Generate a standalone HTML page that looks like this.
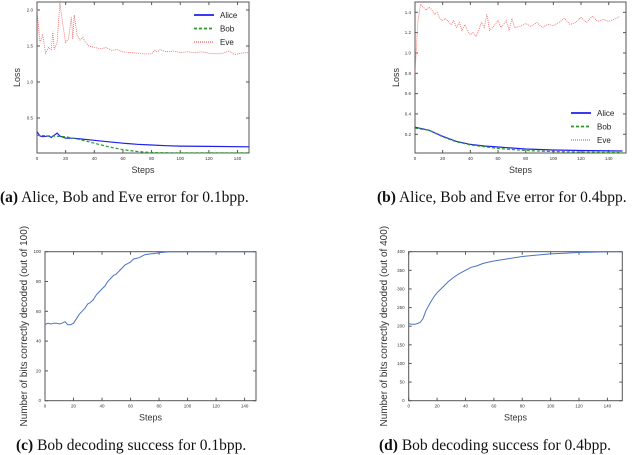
<!DOCTYPE html>
<html><head><meta charset="utf-8"><style>
html,body{margin:0;padding:0;background:#fff;width:640px;height:453px;overflow:hidden}
svg{position:absolute;left:0;top:0}
.cap{position:absolute;font-family:"Liberation Serif",serif;font-size:15.5px;color:#111;white-space:nowrap}
</style></head><body>
<svg id="chart" width="640" height="453"></svg>
<div class="cap" style="left:0;top:189px"><b>(a)</b> Alice, Bob and Eve error for 0.1bpp.</div>
<div class="cap" style="left:377px;top:189px"><b>(b)</b> Alice, Bob and Eve error for 0.4bpp.</div>
<div class="cap" style="left:16px;top:437px"><b>(c)</b> Bob decoding success for 0.1bpp.</div>
<div class="cap" style="left:379px;top:437px"><b>(d)</b> Bob decoding success for 0.4bpp.</div>
<script>
const xTicks=[0,20,40,60,80,100,120,140];
const aYTicks=[0.5,1.0,1.5,2.0];
const bYTicks=[0.2,0.4,0.6,0.8,1.0,1.2,1.4];
const cYTicks=[0,20,40,60,80,100];
const dYTicks=[0,50,100,150,200,250,300,350,400];
const aEveSteps=[0,2,4,6,8,10,11,12,14,16,18,20,22,24,25,26,28,30,32,34,36,40,45,48,52,56,60,65,70,75,80,82,84,86,90,95,100,105,110,115,120,125,130,134,138,142,148];
const aEve=[2.0,1.55,1.65,1.4,1.48,1.45,1.7,1.45,1.55,2.1,1.8,1.55,1.6,1.9,1.6,1.93,1.65,1.58,1.62,1.55,1.5,1.48,1.46,1.48,1.44,1.45,1.42,1.41,1.40,1.39,1.39,1.44,1.42,1.45,1.42,1.43,1.41,1.42,1.41,1.42,1.40,1.39,1.40,1.43,1.38,1.40,1.41];
const aAliceSteps=[0,2,4,8,10,12,14,16,20,25,30,40,50,60,70,80,90,100,120,148];
const aAlice=[0.31,0.25,0.24,0.25,0.23,0.26,0.29,0.25,0.22,0.22,0.21,0.19,0.17,0.15,0.135,0.125,0.115,0.11,0.105,0.10];
const aBobSteps=[0,10,20,30,40,50,60,70,80,100,148];
const aBob=[0.26,0.25,0.24,0.2,0.15,0.1,0.06,0.035,0.02,0.015,0.015];
const bEveSteps=[0,2,4,6,8,10,12,14,16,18,20,22,24,26,28,30,32,34,36,38,40,42,44,46,48,50,52,54,56,58,60,62,64,66,68,70,72,76,80,84,88,92,96,100,104,108,112,116,120,124,128,132,136,140,144,148];
const bEve=[0.8,1.3,1.48,1.45,1.42,1.45,1.43,1.38,1.40,1.34,1.32,1.34,1.31,1.28,1.32,1.25,1.30,1.22,1.28,1.22,1.18,1.2,1.16,1.22,1.30,1.25,1.38,1.22,1.25,1.28,1.32,1.25,1.28,1.32,1.22,1.34,1.25,1.26,1.29,1.26,1.30,1.25,1.28,1.27,1.30,1.34,1.28,1.30,1.35,1.30,1.36,1.31,1.33,1.31,1.33,1.36];
const bAliceSteps=[0,10,20,30,40,50,60,70,80,100,120,150];
const bAlice=[0.27,0.24,0.18,0.13,0.10,0.085,0.075,0.065,0.055,0.045,0.04,0.035];
const bBobSteps=[0,10,20,30,40,60,80,100,150];
const bBob=[0.26,0.24,0.175,0.125,0.095,0.06,0.04,0.03,0.02];
const cSteps=[0,2,4,6,8,10,12,14,16,18,20,22,24,26,28,30,32,34,36,38,40,42,44,46,48,50,52,54,56,58,60,62,64,66,68,70,74,78,82,88,148];
const cVals=[51,52,51.5,52,52,51.5,52,53,51,51,52,55,58,60,62,65,66,68,71,73,75,77,80,82,84,85,87,89,91,92,93,95,95.5,96,97,98,98.5,99,99.5,100,100];
const dSteps=[0,2,4,6,8,10,12,14,16,18,20,24,28,32,36,40,44,48,52,56,60,70,80,90,100,110,120,130,140,150];
const dVals=[207,205,205,207,210,220,240,255,268,280,290,305,320,332,342,350,358,362,368,372,375,381,387,391,394,396,398,399,400,400];

const NS="http://www.w3.org/2000/svg";
const svg=document.getElementById('chart');
function mk(tag,attrs,parent){const e=document.createElementNS(NS,tag);for(const k in attrs)e.setAttribute(k,attrs[k]);(parent||svg).appendChild(e);return e;}
function panel(cfg){
  const g=mk('g',{});
  
  
  const sx=v=>cfg.x0+(v-cfg.xmin)*(cfg.x1-cfg.x0)/(cfg.xmax-cfg.xmin);
  const sy=v=>cfg.yb-(v-cfg.ymin)*(cfg.yb-cfg.yt)/(cfg.ymax-cfg.ymin);
  const box=mk('rect',{x:cfg.x0,y:cfg.boxTop,width:cfg.x1-cfg.x0,height:cfg.boxBot-cfg.boxTop,fill:'none',stroke:'#555','stroke-width':1},g);
  
  
  xTicks.forEach(t=>{const x=sx(t);
    mk('line',{x1:x,x2:x,y1:cfg.boxBot,y2:cfg.boxBot-3,stroke:'#555'},g);
    mk('line',{x1:x,x2:x,y1:cfg.boxTop,y2:cfg.boxTop+3,stroke:'#555'},g);
    const tx=mk('text',{x:x,y:cfg.boxBot+7,'font-size':4.5,'text-anchor':'middle','font-family':'Liberation Sans, sans-serif',fill:'#333'},g);tx.textContent=t;
    
    });
  cfg.yTicks.forEach(t=>{const y=sy(t);
    mk('line',{x1:cfg.x0,x2:cfg.x0+3,y1:y,y2:y,stroke:'#555'},g);
    mk('line',{x1:cfg.x1,x2:cfg.x1-3,y1:y,y2:y,stroke:'#555'},g);
    const tx=mk('text',{x:cfg.x0-4,y:y+1.5,'font-size':4.5,'text-anchor':'end','font-family':'Liberation Sans, sans-serif',fill:'#333'},g);tx.textContent=cfg.fmt?t.toFixed(1):t;
    
    });
  const xl=mk('text',{x:(cfg.x0+cfg.x1)/2,y:cfg.boxBot+20,'font-size':9,'text-anchor':'middle','font-family':'Liberation Sans, sans-serif',fill:'#333'},g);xl.textContent='Steps';
  
  
  const yl=mk('text',{x:0,y:0,'font-size':cfg.ylSize,'text-anchor':'middle','font-family':'Liberation Sans, sans-serif',fill:'#333',transform:`translate(${cfg.ylx},${(cfg.boxTop+cfg.boxBot)/2}) rotate(-90)`},g);yl.textContent=cfg.ylabel;
  
  
  cfg.series.forEach(s=>{
    const d=s.steps.map((st,i)=>(i?'L':'M')+sx(st).toFixed(1)+','+sy(s.vals[i]).toFixed(1)).join('');
    const p=mk('path',{d:d,fill:'none',stroke:s.color,'stroke-width':s.w,'stroke-dasharray':s.dash||'none'},g);
    
    
  });
  if(cfg.legend){let y=cfg.legend.y;cfg.series.forEach(s=>{
    const le=mk('g',{},g);
    
    
    mk('line',{x1:cfg.legend.x,x2:cfg.legend.x+20,y1:y,y2:y,stroke:s.color,'stroke-width':s.w+0.5,'stroke-dasharray':s.dash||'none'},le);
    const t=mk('text',{x:cfg.legend.x+26,y:y+3,'font-size':8,'font-family':'Liberation Sans, sans-serif',fill:'#222'},le);t.textContent=s.label;
    y+=13.5;});}
}
panel({name:'chart-a',x0:37,x1:249,xmin:0,xmax:148,yb:154,yt:10,ymin:0,ymax:2,boxTop:2,boxBot:153,yTicks:aYTicks,fmt:true,ylabel:'Loss',ylx:20,ylSize:9,
 legend:{x:194,y:15},
 series:[{name:'alice-line',label:'Alice',steps:aAliceSteps,vals:aAlice,color:'#1f1fef',w:1.2},
 {name:'bob-line',label:'Bob',steps:aBobSteps,vals:aBob,color:'#2a9a2a',w:1.2,dash:'3,2'},
 {name:'eve-line',label:'Eve',steps:aEveSteps,vals:aEve,color:'#f06060',w:0.8,dash:'1,1'}]});
panel({name:'chart-b',x0:415,x1:626,xmin:0,xmax:152.5,yb:154.6,yt:12.3,ymin:0,ymax:1.4,boxTop:2,boxBot:153,yTicks:bYTicks,fmt:true,ylabel:'Loss',ylx:399,ylSize:9,
 legend:{x:571,y:113},
 series:[{name:'alice-line',label:'Alice',steps:bAliceSteps,vals:bAlice,color:'#1f1fef',w:1.2},
 {name:'bob-line',label:'Bob',steps:bBobSteps,vals:bBob,color:'#2a9a2a',w:1.2,dash:'3,2'},
 {name:'eve-line',label:'Eve',steps:bEveSteps,vals:bEve,color:'#f06060',w:0.8,dash:'1,1'}]});
panel({name:'chart-c',x0:45,x1:256,xmin:0,xmax:148,yb:400.7,yt:251.7,ymin:0,ymax:100,boxTop:251.7,boxBot:400.7,yTicks:cYTicks,ylabel:'Number of bits correctly decoded (out of 100)',ylx:27,ylSize:10,
 series:[{name:'bob-success-line',label:'Bob',steps:cSteps,vals:cVals,color:'#4a72c4',w:1}]});
panel({name:'chart-d',x0:408.7,x1:622.3,xmin:0,xmax:150.5,yb:400.7,yt:251.7,ymin:0,ymax:400,boxTop:251.7,boxBot:400.7,yTicks:dYTicks,ylabel:'Number of bits correctly decoded (out of 400)',ylx:387,ylSize:10,
 series:[{name:'bob-success-line',label:'Bob',steps:dSteps,vals:dVals,color:'#4a72c4',w:1}]});
</script>
</body></html>
